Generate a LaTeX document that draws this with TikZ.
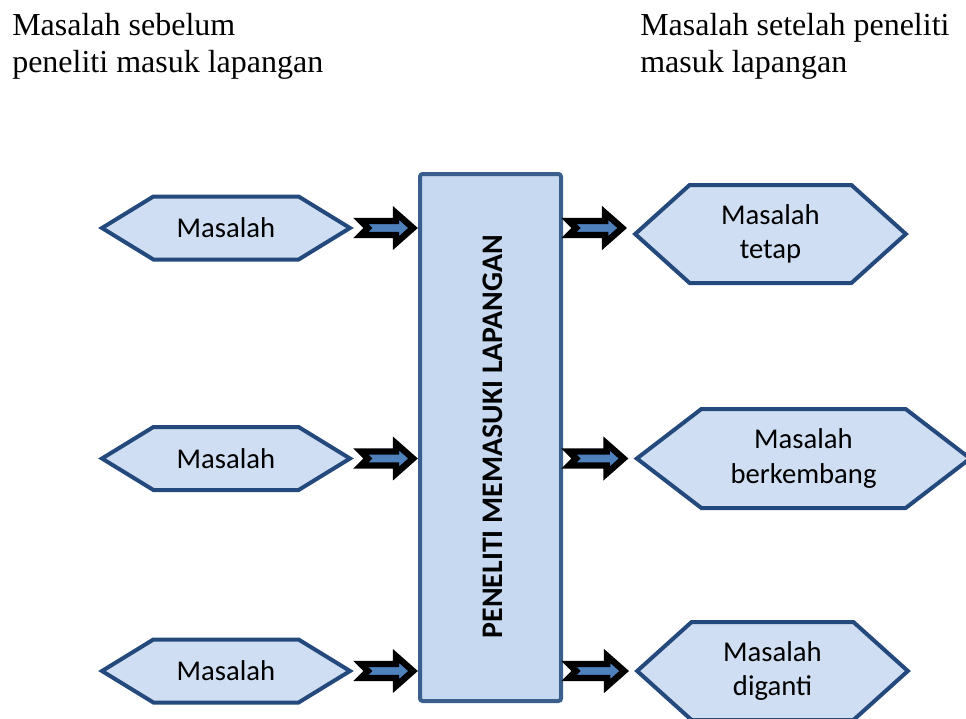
\documentclass[tikz,border=0pt]{standalone}
\usepackage{fontspec}
\setmainfont{Liberation Serif}
\newfontfamily\calibri{Carlito}
\usetikzlibrary{shapes.symbols,calc}
\definecolor{hexfill}{RGB}{207,222,242}
\definecolor{hexline}{RGB}{35,73,125}
\definecolor{boxfill}{RGB}{198,217,240}
\definecolor{boxline}{RGB}{58,95,140}
\definecolor{arrowblue}{RGB}{79,129,189}
\tikzset{
		masalah/.style={shape=signal, signal to=east and west, draw=hexline, fill=hexfill,
			line width=3pt, line join=miter, align=center, inner sep=0pt,
			font=\calibri\fontsize{21.5}{26}\selectfont},
		leftmas/.style={masalah, minimum width=186pt, minimum height=47.25pt, signal pointer angle=63},
		rightmas/.style={masalah, minimum width=203pt, minimum height=73.5pt, signal pointer angle=84},
		heading/.style={anchor=north west, inner sep=0pt, align=left, font=\fontsize{24}{27.75}\selectfont},
		blockarrow/.style={draw=black, fill=arrowblue, line width=4.8pt, line join=miter,
		to path={($(\tikztostart)+(4,-7)$) -- ($(\tikztotarget)+(-22,-7)$)
			-- ($(\tikztotarget)+(-22,-15)$) -- ($(\tikztotarget)+(-5,0)$)
			-- ($(\tikztotarget)+(-22,15)$) -- ($(\tikztotarget)+(-22,7)$)
			-- ($(\tikztostart)+(4,7)$) -- ($(\tikztostart)+(11,0)$) -- cycle}
		},
		}

\begin{document}
\begin{tikzpicture}[x=0.75pt,y=-0.75pt]
	\useasboundingbox (0,0) rectangle (966,718);
	%HEADINGS
	\node[heading](sebelum) at (12,13){Masalah sebelum\\peneliti masuk lapangan};
	\node[heading](setelah) at (640,13){Masalah setelah peneliti\\masuk lapangan};
	%NODES before entering
	\node[leftmas](m1) at (226,228){Masalah};
	\node[leftmas](m2) at (226,458.5){Masalah};
	\node[leftmas](m3) at (226,671){Masalah};
	%CENTRAL BOX
	\node[draw=boxline, fill=boxfill, line width=3pt, rounded corners=2pt,
		minimum width=105.75pt, minimum height=395.25pt](peneliti) at (490.5,437.5){};
	\node[rotate=90, font=\calibri\bfseries\fontsize{22.4}{26}\selectfont](judul)
		at ($(peneliti.center)+(2,-1)$){PENELITI MEMASUKI LAPANGAN};
	%NODES after entering
	\node[rightmas](tetap) at (770.5,234){Masalah\\tetap};
	\node[rightmas, minimum width=250pt, minimum height=74.25pt, signal pointer angle=75](kembang)
		at (803.5,458.5){Masalah\\berkembang};
	\node[rightmas](ganti) at (772.5,671){Masalah\\diganti};
	%PATHS
	\draw[blockarrow] ($(m1.east)+(3,0)$) to (peneliti.west |- m1.east);
	\draw[blockarrow] ($(m2.east)+(3,0)$) to (peneliti.west |- m2.east);
	\draw[blockarrow] ($(m3.east)+(3,0)$) to (peneliti.west |- m3.east);
	\draw[blockarrow] ($(peneliti.east |- m1.east)+(2,0)$) to ($(tetap.west |- m1.east)+(-5,0)$);
	\draw[blockarrow] ($(peneliti.east |- m2.east)+(2,0)$) to ($(kembang.west |- m2.east)+(-5,0)$);
	\draw[blockarrow] ($(peneliti.east |- m3.east)+(2,0)$) to ($(ganti.west |- m3.east)+(-5,0)$);
\end{tikzpicture}
\end{document}
